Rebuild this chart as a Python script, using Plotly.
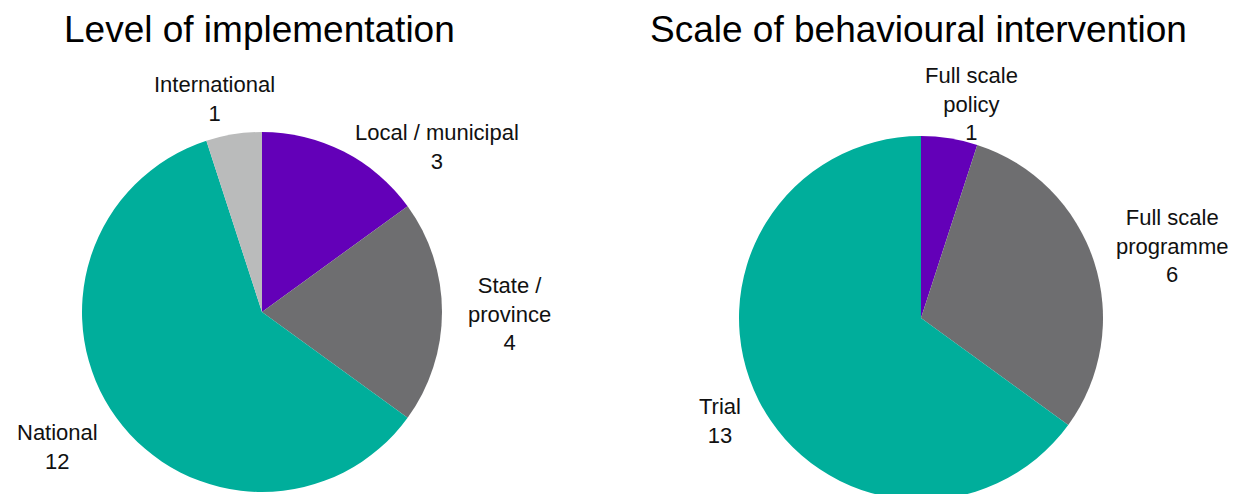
import plotly.graph_objects as go

#########################
#   Data
#########################
level_labels = ['Local / municipal', 'State / province', 'National', 'International']
level_display = ['Local / municipal', 'State /<br>province', 'National', 'International']
level_values = [3, 4, 12, 1]

scale_labels = ['Full scale policy', 'Full scale programme', 'Trial']
scale_display = ['Full scale<br>policy', 'Full scale<br>programme', 'Trial']
scale_values = [1, 6, 13]

#########################
#   Styling / layout
#########################
W, H = 1246, 502   # a few px taller than the window so the right pie is cut at the bottom
purple, dark_grey, teal, light_grey = '#6300B8', '#6E6E70', '#00AE9B', '#BABBBB'
level_colors = [purple, dark_grey, teal, light_grey]
scale_colors = [purple, dark_grey, teal]
font_family = 'Liberation Sans, Arial, sans-serif'

# label block centres in pixels (x, y from top)
level_label_px = [(437, 147), (509, 314), (57, 447), (214, 99)]
scale_label_px = [(971, 104), (1172, 246), (720, 421)]


def px_domain(cx, cy, r):
    return dict(x=[(cx - r) / W, (cx + r) / W],
                y=[1 - (cy + r) / H, 1 - (cy - r) / H])


fig = go.Figure()
fig.add_trace(go.Pie(
    labels=level_labels, values=level_values, sort=False, direction='clockwise',
    rotation=0, textinfo='none', hoverinfo='label+value',
    marker=dict(colors=level_colors, line=dict(width=0)),
    domain=px_domain(262, 312, 180),
))
fig.add_trace(go.Pie(
    labels=scale_labels, values=scale_values, sort=False, direction='clockwise',
    rotation=0, textinfo='none', hoverinfo='label+value',
    marker=dict(colors=scale_colors, line=dict(width=0)),
    domain=px_domain(921, 318, 182),
))

annotations = []
for text, v, (x, y) in zip(level_display, level_values, level_label_px):
    annotations.append(dict(text=f'{text}<br>{v}', x=x / W, y=1 - y / H))
for text, v, (x, y) in zip(scale_display, scale_values, scale_label_px):
    annotations.append(dict(text=f'{text}<br>{v}', x=x / W, y=1 - y / H))
for a in annotations:
    a.update(xref='paper', yref='paper', showarrow=False, align='center',
             xanchor='center', yanchor='middle',
             font=dict(size=22, color='#111111', family=font_family))

# titles
annotations.append(dict(text='Level of implementation', x=259 / W, y=1 - 30 / H))
annotations.append(dict(text='Scale of behavioural intervention', x=918 / W, y=1 - 30 / H))
for a in annotations[-2:]:
    a.update(xref='paper', yref='paper', showarrow=False, xanchor='center',
             yanchor='middle', font=dict(size=37, color='#000000', family=font_family))

fig.update_layout(
    width=W, height=H,
    margin=dict(l=0, r=0, t=0, b=0),
    paper_bgcolor='white', plot_bgcolor='white',
    showlegend=False,
    annotations=annotations,
)

# drop the default 8px page margin and hide the scrollbars
fig.write_html('out.html', config={'displayModeBar': False}, post_script=(
    "document.body.style.margin='0';"
    "document.documentElement.style.overflow='hidden';"
    "document.body.style.overflow='hidden';"
))
